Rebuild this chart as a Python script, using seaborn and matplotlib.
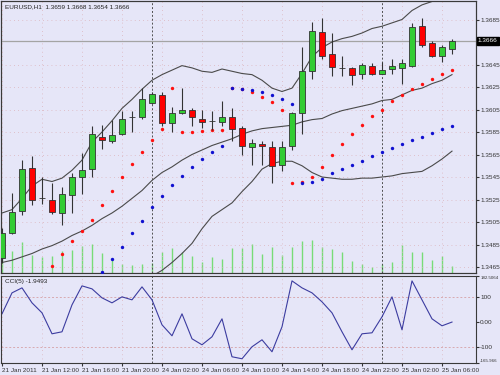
import numpy as np
import pandas as pd
import seaborn as sns
import matplotlib.pyplot as plt
from matplotlib import font_manager
from matplotlib.transforms import blended_transform_factory

# EURUSD H1 candles, 21 Jan 2011 08:00 .. 25 Jan 2011 06:00
opens = [1.3473, 1.3495, 1.3515, 1.3553, 1.3526, 1.3525, 1.3513, 1.3529, 1.3545, 1.3552,
         1.3581, 1.3577, 1.3583, 1.3598, 1.3598, 1.3611, 1.3618, 1.3593, 1.3602, 1.3605,
         1.3597, 1.3595, 1.3594, 1.3598, 1.3589, 1.3572, 1.3574, 1.3572, 1.3556, 1.3573,
         1.3602, 1.3639, 1.3674, 1.3654, 1.3642, 1.3642, 1.3637, 1.3644, 1.3637, 1.3641,
         1.3642, 1.3644, 1.3679, 1.3664, 1.3653, 1.3659]
highs = [1.3500, 1.3531, 1.3560, 1.3564, 1.3545, 1.3540, 1.3536, 1.3549, 1.3566, 1.3590,
         1.3591, 1.3596, 1.3604, 1.3604, 1.3624, 1.3621, 1.3621, 1.3607, 1.3624, 1.3606,
         1.3605, 1.3604, 1.3613, 1.3606, 1.3590, 1.3579, 1.3577, 1.3577, 1.3577, 1.3603,
         1.3661, 1.3683, 1.3686, 1.3673, 1.3653, 1.3643, 1.3646, 1.3646, 1.3647, 1.3650,
         1.3650, 1.3682, 1.3686, 1.3666, 1.3662, 1.3668]
lows = [1.3469, 1.3494, 1.3511, 1.3520, 1.3521, 1.3512, 1.3502, 1.3513, 1.3530, 1.3545,
        1.3570, 1.3575, 1.3582, 1.3585, 1.3597, 1.3610, 1.3590, 1.3585, 1.3601, 1.3590,
        1.3589, 1.3587, 1.3590, 1.3577, 1.3565, 1.3556, 1.3556, 1.3540, 1.3550, 1.3569,
        1.3583, 1.3632, 1.3650, 1.3635, 1.3635, 1.3627, 1.3632, 1.3636, 1.3637, 1.3637,
        1.3628, 1.3643, 1.3661, 1.3652, 1.3647, 1.3654]
closes = [1.3495, 1.3514, 1.3552, 1.3525, 1.3526, 1.3514, 1.3530, 1.3545, 1.3551, 1.3583,
          1.3578, 1.3582, 1.3597, 1.3598, 1.3614, 1.3619, 1.3593, 1.3602, 1.3605, 1.3598,
          1.3594, 1.3595, 1.3598, 1.3588, 1.3573, 1.3575, 1.3573, 1.3555, 1.3572, 1.3602,
          1.3639, 1.3675, 1.3653, 1.3643, 1.3642, 1.3636, 1.3645, 1.3637, 1.3640, 1.3644,
          1.3646, 1.3678, 1.3662, 1.3653, 1.3661, 1.3666]
volumes = [2400, 2200, 3100, 1800, 1600, 1700, 2200, 2300, 2700, 2900,
           2000, 1300, 900, 800, 900, 1000, 2100, 2500, 2100, 1700,
           1100, 1600, 1400, 2500, 2500, 2900, 1900, 2600, 1800, 2600,
           3200, 3300, 2600, 2400, 2100, 1200, 900, 600, 900, 1100,
           2800, 2100, 2100, 1300, 1700, 700]

# Bollinger bands
bb_upper = [1.3513, 1.3516, 1.3526, 1.3537, 1.3543, 1.3541, 1.3544, 1.3551, 1.3560, 1.3576,
            1.3585, 1.3595, 1.3606, 1.3614, 1.3623, 1.3631, 1.3636, 1.3640, 1.3644, 1.3642,
            1.3639, 1.3638, 1.3641, 1.3639, 1.3637, 1.3636, 1.3631, 1.3624, 1.3621, 1.3624,
            1.3637, 1.3652, 1.3660, 1.3665, 1.3668, 1.3670, 1.3673, 1.3677, 1.3679, 1.3682,
            1.3685, 1.3693, 1.3698, 1.3701, 1.3705, 1.3708]
bb_middle = [1.3469, 1.3471, 1.3474, 1.3477, 1.3481, 1.3484, 1.3488, 1.3493, 1.3497, 1.3502,
             1.3508, 1.3513, 1.3519, 1.3526, 1.3533, 1.3542, 1.3549, 1.3554, 1.3560, 1.3565,
             1.3569, 1.3573, 1.3576, 1.3579, 1.3583, 1.3586, 1.3588, 1.3589, 1.3590, 1.3591,
             1.3594, 1.3596, 1.3597, 1.3601, 1.3604, 1.3606, 1.3608, 1.3610, 1.3613, 1.3614,
             1.3618, 1.3622, 1.3624, 1.3628, 1.3631, 1.3636]
bb_lower = [np.nan] * 15 + [
    1.3457, 1.3462, 1.3469, 1.3477, 1.3486, 1.3499, 1.3510, 1.3516, 1.3522, 1.3532,
    1.3541, 1.3552, 1.3557, 1.3559, 1.3559, 1.3555, 1.3549, 1.3545, 1.3544, 1.3543,
    1.3543, 1.3544, 1.3544, 1.3545, 1.3546, 1.3548, 1.3549, 1.3550, 1.3555, 1.3561,
    1.3568]

# two parabolic SARs
sar_red = [np.nan] * 5 + [
    1.3466, 1.3477, 1.3488, 1.3497, 1.3507, 1.3520, 1.3533, 1.3545, 1.3557, 1.3567,
    1.3578, 1.3588, 1.3624, 1.3585, 1.3585, 1.3586, 1.3587, 1.3587, 1.3624, 1.3623,
    1.3621, 1.3616, 1.3612, 1.3605, 1.3540, 1.3541, 1.3545, 1.3554, 1.3565, 1.3574,
    1.3583, 1.3591, 1.3599, 1.3605, 1.3613, 1.3618, 1.3623, 1.3628, 1.3632, 1.3637,
    1.3640]
sar_blue = [np.nan] * 10 + [
    1.3461, 1.3472, 1.3483, 1.3495, 1.3506, 1.3518, 1.3528, 1.3538, 1.3546, 1.3554,
    1.3561, 1.3567, 1.3573, 1.3624, 1.3623, 1.3622, 1.3621, 1.3618, 1.3614, 1.3610,
    1.3540, 1.3541, 1.3543, 1.3549, 1.3552, 1.3556, 1.3559, 1.3564, 1.3567, 1.3571,
    1.3574, 1.3578, 1.3581, 1.3584, 1.3588, 1.3590]

# CCI(5)
cci = [31, 115, 135, 75, 35, -49, -41, 67, 143, 131,
       95, 75, 99, 87, 139, 87, -13, -57, 31, -69,
       -93, -61, 11, -141, -149, -101, -73, -121, -21, 163,
       135, 115, 79, 35, -41, -113, -49, -45, 19, 99,
       -33, 163, 87, 11, -17, -1.9493]

time_labels = ["21 Jan 2011", "21 Jan 12:00", "21 Jan 16:00", "21 Jan 20:00",
               "24 Jan 02:00", "24 Jan 06:00", "24 Jan 10:00", "24 Jan 14:00",
               "24 Jan 18:00", "24 Jan 22:00", "25 Jan 02:00", "25 Jan 06:00"]
separators = [15, 38]
price_ticks = [1.3465, 1.3485, 1.3505, 1.3525, 1.3545, 1.3565, 1.3585, 1.3605,
               1.3625, 1.3645, 1.3685]
bid = 1.3666
cci_ticks = [182.5064, 100, 0, -100, -165.966]
cci_tick_labels = ["182.5064", "100", "0.00", "-100", "-165.966"]

BG = "#e6e6f8"
FRAME = "#3a3a3a"
GRID = dict(color="#dcb4bc", ls=(0, (1, 4)), lw=0.6)

df = pd.DataFrame({"bar": np.arange(len(opens)), "open": opens, "high": highs,
                   "low": lows, "close": closes, "volume": volumes,
                   "upper": bb_upper, "middle": bb_middle, "lower": bb_lower,
                   "sar_red": sar_red, "sar_blue": sar_blue, "cci": cci})
df["up"] = df["close"] >= df["open"]

# narrow font if there is one, the terminal font is quite condensed
names = {f.name for f in font_manager.fontManager.ttflist}
narrow = "Liberation Sans Narrow" if "Liberation Sans Narrow" in names else "Liberation Sans"
plt.rcParams["font.family"] = [narrow, "DejaVu Sans"]
FS = 5.2 if narrow.endswith("Narrow") else 4.6

fig = plt.figure(figsize=(5, 3.75), dpi=100, facecolor=BG)
ax = fig.add_axes([0.002, 0.272, 0.95, 0.7253])
ax2 = fig.add_axes([0.002, 0.032, 0.95, 0.232], sharex=ax)
ax2.set_facecolor(BG)

# volumes behind the price chart
vol = ax.twinx()
ax.set_zorder(vol.get_zorder() + 1)
ax.patch.set_visible(False)
vol.patch.set_visible(True)
vol.set_facecolor(BG)
vol.vlines(df["bar"], 0, df["volume"], color="#78dc78", lw=1)
vol.set_ylim(0, 27200)
vol.set_yticks([])

ax.set_axisbelow(True)
ax.grid(**GRID)
ax.axhline(bid, color="#a4a4a4", lw=0.9, zorder=1)

for col in ["upper", "middle", "lower"]:
    sns.lineplot(data=df, x="bar", y=col, ax=ax, color="#4a4a4a", lw=0.8, legend=False)
sns.scatterplot(data=df, x="bar", y="sar_red", ax=ax, color="#ff1010", s=6, linewidth=0, zorder=3)
sns.scatterplot(data=df, x="bar", y="sar_blue", ax=ax, color="#1010d0", s=6, linewidth=0, zorder=3)

# candles
ax.vlines(df["bar"], df["low"], df["high"], color="#333333", lw=0.8, zorder=4)
ax.bar(df["bar"], df["close"] - df["open"], bottom=df["open"], width=0.62,
       color=np.where(df["up"], "#33cc33", "#ff0000"), edgecolor="#333333", lw=0.6, zorder=5)

for s in separators:
    ax.axvline(s, color="#505050", ls=(0, (2, 2)), lw=0.7, zorder=2)
    ax2.axvline(s, color="#505050", ls=(0, (2, 2)), lw=0.7, zorder=2)

ax.set_xlim(-0.1, 47.4)
ax.set_ylim(1.345967, 1.370144)
ax.set_yticks(price_ticks)
ax.set_yticklabels([f"{p:.4f}" for p in price_ticks])
ax.yaxis.tick_right()
ax.tick_params(axis="y", labelsize=FS, length=2, pad=1.5, colors="#333333")
ax.tick_params(axis="x", bottom=False, labelbottom=False)
ax.set_xlabel("")
ax.set_ylabel("")

tr = blended_transform_factory(ax.transAxes, ax.transData)
ax.text(1.004, bid, "1.3666", transform=tr, fontsize=FS, color="white", va="center", ha="left",
        bbox=dict(boxstyle="square,pad=0.2", fc="black", ec="black"), zorder=10)
ax.text(0.008, 0.988, "EURUSD,H1  1.3659 1.3668 1.3654 1.3666", transform=ax.transAxes,
        fontsize=FS, va="top", ha="left", color="#222222")

# CCI panel
ax2.grid(axis="x", **GRID)
ax2.set_axisbelow(True)
ax2.axhline(100, color="#d8aab0", ls=(0, (2, 2)), lw=0.7)
ax2.axhline(-100, color="#d8aab0", ls=(0, (2, 2)), lw=0.7)
sns.lineplot(data=df, x="bar", y="cci", ax=ax2, color="#3c3ca0", lw=0.8, legend=False)
ax2.set_ylim(-165.966, 182.5064)
ax2.set_yticks(cci_ticks)
ax2.set_yticklabels(cci_tick_labels)
ax2.yaxis.tick_right()
ax2.tick_params(axis="y", labelsize=FS, length=2, pad=1, colors="#333333")
# the max/min labels are long: shrink them and keep them inside the panel
top_lab, bot_lab = ax2.get_yticklabels()[0], ax2.get_yticklabels()[-1]
for lab in (top_lab, bot_lab):
    lab.set_fontsize(FS - 1.4)
top_lab.set_va("top")
bot_lab.set_va("bottom")
ax2.set_xticks(range(0, len(opens), 4))
ax2.set_xticklabels(time_labels, ha="left")
ax2.tick_params(axis="x", labelsize=FS, length=2, pad=1.5, colors="#333333")
ax2.set_xlabel("")
ax2.set_ylabel("")
ax2.text(0.008, 0.96, "CCI(5) -1.9493", transform=ax2.transAxes, fontsize=FS,
         va="top", ha="left", color="#222222")

for a in (ax, ax2, vol):
    for sp in a.spines.values():
        sp.set_color(FRAME)
        sp.set_linewidth(0.8)

fig.savefig("out.png", dpi=100, facecolor=BG)
